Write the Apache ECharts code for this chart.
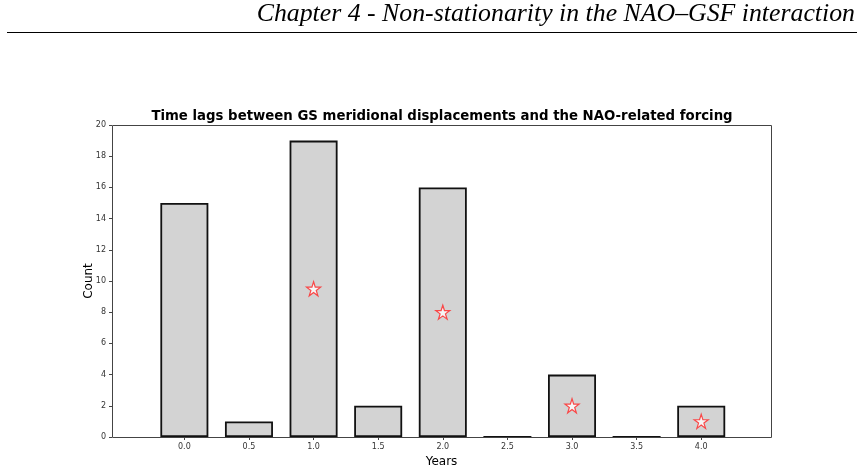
<!DOCTYPE html>
<html>
<head>
<meta charset="utf-8">
<script src="https://cdn.jsdelivr.net/npm/echarts@6/dist/echarts.min.js"></script>
<style>
  html, body { margin: 0; padding: 0; background: #fff; }
  #chart { width: 863px; height: 468px; }
</style>
</head>
<body>
<div id="chart"></div>
<script>
// lag bins (years) and counts
const lags = [0.0, 0.5, 1.0, 1.5, 2.0, 2.5, 3.0, 3.5, 4.0];
const counts = [15, 1, 19, 2, 16, 0, 4, 0, 2];
// star markers
const starLags = [1.0, 2.0, 3.0, 4.0];
const starValues = [9.5, 8, 2, 1];
const xTicks = [0.0, 0.5, 1.0, 1.5, 2.0, 2.5, 3.0, 3.5, 4.0];

const starPath = 'path://M50,0 L61.8,35.4 L100,35.4 L69.1,57.3 L80.9,92.7 L50,70.8 L19.1,92.7 L30.9,57.3 L0,35.4 L38.2,35.4 Z';

const chart = echarts.init(document.getElementById('chart'), null, { renderer: 'canvas' });

chart.setOption({
  animation: false,
  backgroundColor: '#fff',
  title: {
    text: 'Time lags between GS meridional displacements and the NAO-related forcing',
    left: 437, top: 105, textAlign: 'center',
    textStyle: { fontFamily: 'DejaVu Sans', fontSize: 13.3, fontWeight: 'bold', color: '#000' }
  },
  graphic: [
    {
      type: 'text', right: 8, top: 1,
      style: {
        text: 'Chapter 4 - Non-stationarity in the NAO\u2013GSF interaction',
        font: 'italic 25.8px "Liberation Serif"', fill: '#000'
      }
    },
    {
      type: 'line',
      shape: { x1: 7, y1: 32.5, x2: 857, y2: 32.5 },
      style: { stroke: '#000', lineWidth: 1 }
    },
    {
      type: 'rect',
      shape: { x: 112.5, y: 125.5, width: 659, height: 312 },
      style: { fill: 'none', stroke: '#444', lineWidth: 1 },
      z: 10
    }
  ],
  grid: { left: 112, top: 125, width: 659, height: 312, containLabel: false, outerBoundsMode: 'none' },
  xAxis: {
    type: 'value', min: -0.56, max: 4.54,
    name: 'Years', nameLocation: 'middle', nameGap: 18,
    nameTextStyle: { fontFamily: 'DejaVu Sans', fontSize: 12, color: '#000' },
    splitLine: { show: false },
    axisLine: { show: false, onZero: false },
    axisTick: { show: true, customValues: xTicks, length: 3, lineStyle: { color: '#444' } },
    axisLabel: {
      customValues: xTicks, margin: 6,
      formatter: v => v.toFixed(1),
      fontFamily: 'DejaVu Sans', fontSize: 8, color: '#333'
    }
  },
  yAxis: {
    type: 'value', min: 0, max: 20, interval: 2,
    name: 'Count', nameLocation: 'middle', nameGap: 17, nameMoveOverlap: false,
    nameTextStyle: { fontFamily: 'DejaVu Sans', fontSize: 12, color: '#000' },
    splitLine: { show: false },
    axisLine: { show: false, onZero: false },
    axisTick: { show: true, length: 3, lineStyle: { color: '#444' } },
    axisLabel: { margin: 6, fontFamily: 'DejaVu Sans', fontSize: 8, color: '#333' }
  },
  series: [
    {
      type: 'bar',
      data: lags.map((x, i) => [x, counts[i]]),
      barWidth: 48,
      itemStyle: { color: '#d3d3d3', borderColor: '#111', borderWidth: 1.8 },
      z: 2
    },
    {
      type: 'scatter',
      data: starLags.map((x, i) => [x, starValues[i]]),
      symbol: starPath,
      symbolSize: 14,
      itemStyle: { color: '#fff', borderColor: '#ff2020', borderWidth: 1.2 },
      z: 5
    }
  ]
});
</script>
</body>
</html>
